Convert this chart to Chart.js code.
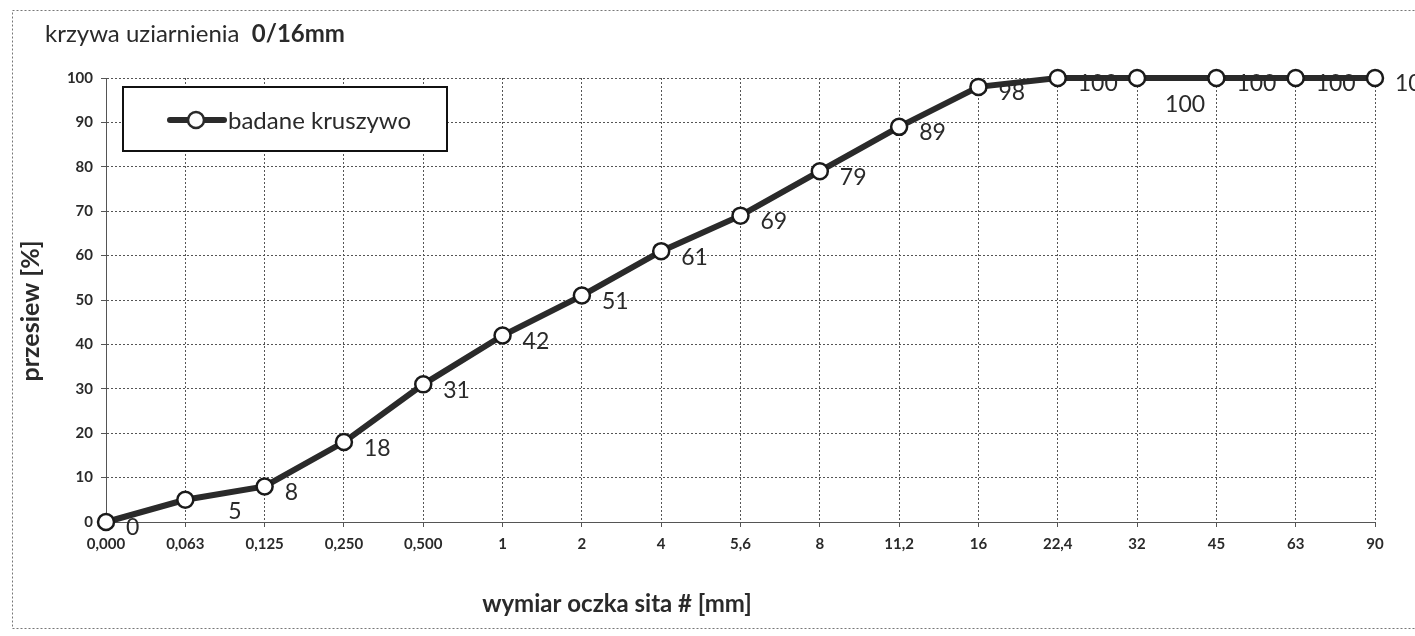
<!DOCTYPE html>
<html>
<head>
<meta charset="utf-8">
<script src="https://cdn.jsdelivr.net/npm/chart.js@4.4.1/dist/chart.umd.min.js"></script>
<style>
  html, body { margin: 0; padding: 0; background: #fff; }
  #wrap { width: 1415px; height: 636px; }
</style>
</head>
<body>
<div id="wrap"><canvas id="sieveChart"></canvas></div>
<script>
// sieve sizes (mm) and passing percentages
const sieves = ['0,000', '0,063', '0,125', '0,250', '0,500', '1', '2', '4', '5,6', '8', '11,2', '16', '22,4', '32', '45', '63', '90'];
const passing = [0, 5, 8, 18, 31, 42, 51, 61, 69, 79, 89, 98, 100, 100, 100, 100, 100];
const yTicks = [0, 10, 20, 30, 40, 50, 60, 70, 80, 90, 100];

const FONT = 'Lato, "DejaVu Sans", sans-serif';
const INK = '#2a2a2a';

// a few labels sit lower than the rest in the original
const labelShift = { 1: [23, 6], 13: [8, 21] };

const extras = {
  id: 'extras',
  afterDatasetsDraw(chart) {
    const ctx = chart.ctx;
    const meta = chart.getDatasetMeta(0);
    ctx.save();
    ctx.fillStyle = INK;
    ctx.font = '23px ' + FONT;
    ctx.textAlign = 'left';
    ctx.textBaseline = 'middle';
    meta.data.forEach((pt, i) => {
      const s = labelShift[i] || [0, 0];
      ctx.fillText(String(passing[i]), pt.x + 20 + s[0], pt.y + 6 + s[1]);
    });

    // legend box
    ctx.fillStyle = '#fff';
    ctx.fillRect(123, 87, 324, 64);
    ctx.strokeStyle = '#111';
    ctx.lineWidth = 2;
    ctx.strokeRect(123, 87, 324, 64);
    ctx.strokeStyle = INK;
    ctx.lineWidth = 6;
    ctx.lineCap = 'round';
    ctx.beginPath();
    ctx.moveTo(170, 120);
    ctx.lineTo(224, 120);
    ctx.stroke();
    ctx.beginPath();
    ctx.arc(196, 120, 8, 0, Math.PI * 2);
    ctx.fillStyle = '#fff';
    ctx.fill();
    ctx.lineWidth = 2.5;
    ctx.stroke();
    ctx.fillStyle = INK;
    ctx.font = '24px ' + FONT;
    ctx.fillText(chart.data.datasets[0].label, 228, 121);
    ctx.restore();
  },
  afterDraw(chart) {
    const ctx = chart.ctx;
    ctx.save();
    // outer dotted frame
    ctx.strokeStyle = '#777';
    ctx.lineWidth = 1;
    ctx.setLineDash([2, 2]);
    ctx.strokeRect(12.5, 10.5, 1410, 618);
    ctx.setLineDash([]);

    ctx.fillStyle = INK;
    ctx.textBaseline = 'alphabetic';
    ctx.textAlign = 'left';
    ctx.font = '24px ' + FONT;
    const t1 = 'krzywa uziarnienia  ';
    ctx.fillText(t1, 45, 42);
    const w = ctx.measureText(t1).width;
    ctx.font = 'bold 24px ' + FONT;
    ctx.fillText('0/16mm', 45 + w, 42);

    ctx.font = 'bold 24px ' + FONT;
    ctx.textAlign = 'center';
    ctx.textBaseline = 'middle';
    ctx.fillText('wymiar oczka sita # [mm]', 617, 604);

    ctx.translate(31, 311);
    ctx.rotate(-Math.PI / 2);
    ctx.font = 'bold 25px ' + FONT;
    ctx.fillText('przesiew [%]', 0, 0);
    ctx.restore();
  }
};

const gridStyle = {
  color: '#555',
  lineWidth: 1,
  tickLength: 5,
  tickColor: '#555'
};

new Chart(document.getElementById('sieveChart'), {
  type: 'line',
  data: {
    labels: sieves,
    datasets: [{
      label: 'badane kruszywo',
      data: passing,
      borderColor: INK,
      borderWidth: 6,
      pointRadius: 8,
      pointBorderWidth: 2.5,
      pointBorderColor: '#1a1a1a',
      pointBackgroundColor: '#fff',
      tension: 0,
      clip: false
    }]
  },
  options: {
    responsive: true,
    maintainAspectRatio: false,
    animation: false,
    layout: { padding: { left: 0, top: 78, right: 40, bottom: 0 } },
    plugins: {
      legend: { display: false },
      tooltip: { enabled: false }
    },
    scales: {
      x: {
        type: 'category',
        offset: false,
        grid: gridStyle,
        border: { color: '#555', dash: [2, 2] },
        ticks: {
          color: INK,
          font: { family: FONT, size: 15, weight: 'bold' },
          padding: 8,
          maxRotation: 0,
          autoSkip: false
        },
        afterFit(scale) { scale.height = 114; }
      },
      y: {
        min: 0,
        max: 100,
        grid: gridStyle,
        border: { color: '#555', dash: [2, 2] },
        afterBuildTicks(scale) { scale.ticks = yTicks.map(v => ({ value: v })); },
        ticks: {
          color: INK,
          font: { family: FONT, size: 15, weight: 'bold' },
          padding: 8
        },
        afterFit(scale) { scale.width = 106; }
      }
    }
  },
  plugins: [extras]
});
</script>
</body>
</html>
